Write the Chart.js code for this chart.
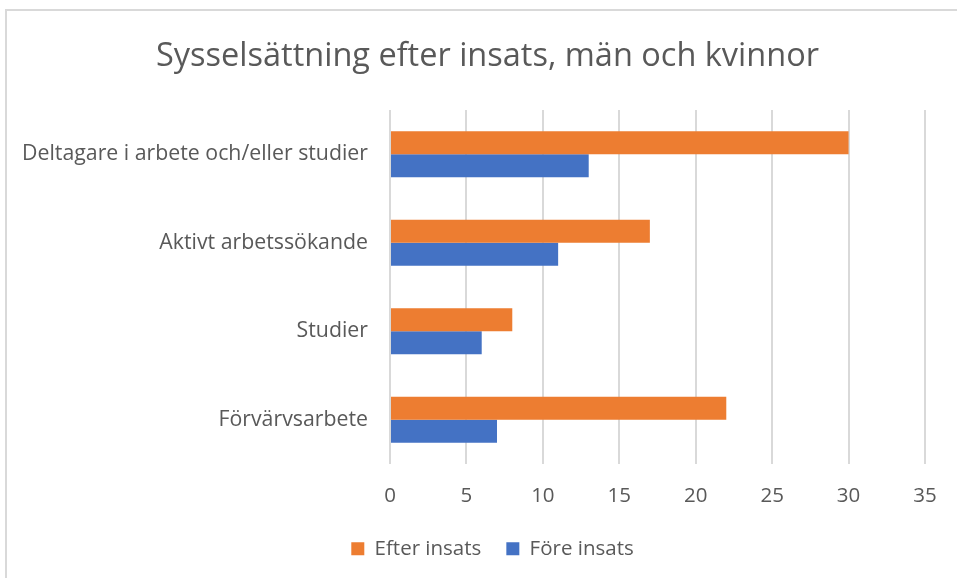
<!DOCTYPE html>
<html>
<head>
<meta charset="utf-8">
<script src="https://cdn.jsdelivr.net/npm/chart.js@4/dist/chart.umd.min.js"></script>
<style>
  html, body { margin: 0; padding: 0; background: #ffffff; overflow: hidden; }
  #frame { position: absolute; left: 5px; top: 9px; width: 1100px; height: 800px; border-left: 2px solid #d9d9d9; border-top: 2px solid #d9d9d9; }
  #wrap { position: absolute; left: 0; top: 0; width: 957px; height: 578px; }
</style>
</head>
<body>
<div id="frame"></div>
<div id="wrap"><canvas id="c" width="957" height="578"></canvas></div>
<script>
const categories = ["Deltagare i arbete och/eller studier", "Aktivt arbetssökande", "Studier", "Förvärvsarbete"];
const efterInsats = [30, 17, 8, 22];
const foreInsats = [13, 11, 6, 7];
const seriesNames = ["Efter insats", "Före insats"];
const xTicks = [0, 5, 10, 15, 20, 25, 30, 35];
const titleText = "Sysselsättning efter insats, män och kvinnor";

const FONT = "'Open Sans', sans-serif";
const TXT = "#595959";
const LEGEND_PAD = 25;

// shift title and legend so they sit where the reference has them
const shiftBoxes = {
  id: "shiftBoxes",
  afterLayout(chart) {
    if (chart.titleBlock) { chart.titleBlock.left += 20; chart.titleBlock.right += 20; }
    if (chart.legend) {
      chart.legend.left += 25; chart.legend.right += 25;
      chart.legend.top -= (LEGEND_PAD - 10); chart.legend.bottom -= (LEGEND_PAD - 10);
    }
  }
};

new Chart(document.getElementById("c"), {
  type: "bar",
  data: {
    labels: categories,
    datasets: [
      { label: seriesNames[0], data: efterInsats, backgroundColor: "#ED7D31", barPercentage: 1.0, categoryPercentage: 0.52 },
      { label: seriesNames[1], data: foreInsats, backgroundColor: "#4472C4", barPercentage: 1.0, categoryPercentage: 0.52 }
    ]
  },
  plugins: [shiftBoxes],
  options: {
    indexAxis: "y",
    responsive: false,
    animation: false,
    devicePixelRatio: 1,
    layout: { padding: { left: 10, right: 32, top: 0, bottom: 9 - (LEGEND_PAD - 10) } },
    plugins: {
      title: {
        display: true,
        text: titleText,
        color: TXT,
        font: { family: FONT, size: 32.5, weight: "normal" },
        padding: { top: 37, bottom: 34 }
      },
      legend: {
        position: "bottom",
        labels: {
          color: TXT,
          font: { family: FONT, size: 20.5 },
          boxWidth: 13,
          boxHeight: 13,
          padding: LEGEND_PAD
        }
      },
      tooltip: { enabled: false }
    },
    scales: {
      x: {
        min: 0,
        max: 35,
        afterBuildTicks: (s) => { s.ticks = xTicks.map(v => ({ value: v })); },
        ticks: { color: TXT, font: { family: FONT, size: 20.5 }, padding: 20 },
        grid: { color: "#d9d9d9", lineWidth: 2, drawTicks: false },
        border: { display: false }
      },
      y: {
        ticks: { color: TXT, font: { family: FONT, size: 21.3 }, padding: 22 },
        grid: { display: false, drawTicks: false },
        border: { display: false },
        afterFit: (s) => { s.width = 380; }
      }
    }
  }
});
</script>
</body>
</html>
